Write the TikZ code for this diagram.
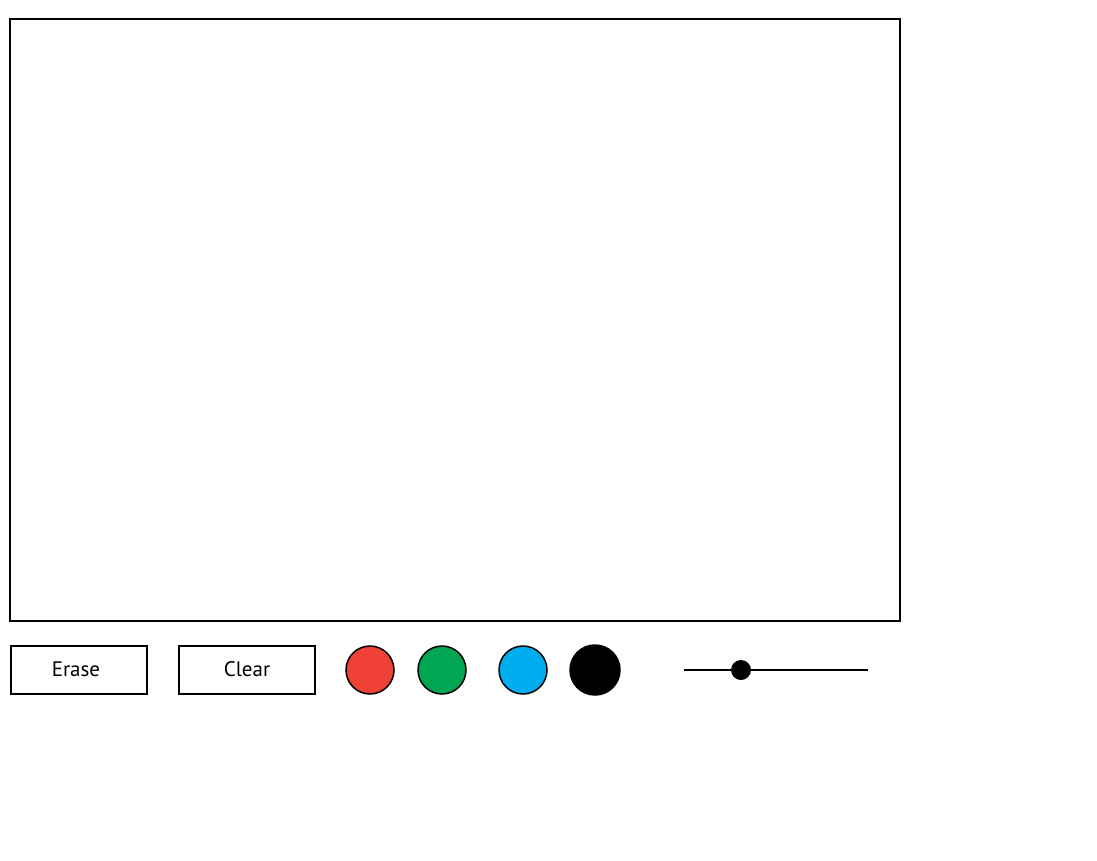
\documentclass[tikz,border=0pt]{standalone}
\usepackage{fontspec}
\setmainfont{PT Sans}
\usetikzlibrary{positioning}
\definecolor{swred}{HTML}{EF4136}
\definecolor{swgreen}{HTML}{00A651}
\definecolor{swblue}{HTML}{00AEEF}
\begin{document}
\begin{tikzpicture}[x=1pt,y=-1pt,
        btn/.style={draw, line width=2pt, minimum width=136pt, minimum height=48pt,
            inner sep=0pt, font=\fontsize{21}{24}\selectfont},
        swatch/.style={circle, draw, line width=1.5pt, minimum size=48pt, inner sep=0pt}]
        \useasboundingbox (0,0) rectangle (1097,860);
        \draw[line width=2pt] (10,19) rectangle (900,621);

        \node[btn] (erase) at (78.5,670) {\hspace*{-5pt}\raisebox{2.5pt}{Erase}};
        \node[btn] (clear) at (247,670) {\raisebox{2.5pt}{Clear}};

        \node[swatch, fill=swred]   (red)   at (370,670) {};
        \node[swatch, fill=swgreen] (green) at (442,670) {};
        \node[swatch, fill=swblue]  (blue)  at (523,670) {};
        \node[swatch, fill=black, minimum size=50pt] (blk) at (595,670) {};

        \coordinate (sl) at (684,670);
        \coordinate (sr) at (868,670);
        \draw[line width=2pt] (sl) -- (sr);
        \node[circle, fill=black, minimum size=20pt, inner sep=0pt] (knob) at (741,670) {};
    \end{tikzpicture}
\end{document}
